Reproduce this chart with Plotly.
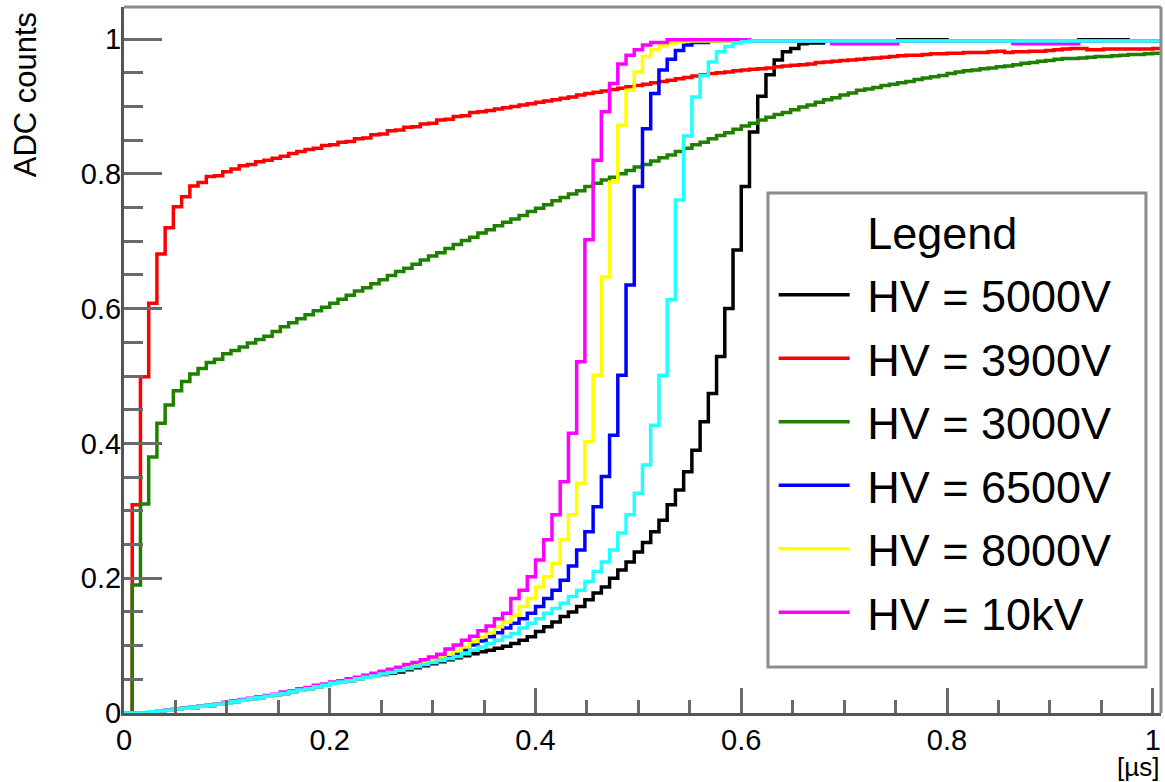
import numpy as np
import plotly.graph_objects as go

# ---------------- data ----------------
BIN_WIDTH = 0.008  # microseconds per bin (126 bins)

tail = [0, 0, 0, 0.002, 0.003, 0.004, 0.006, 0.007, 0.008, 0.010, 0.011, 0.013, 0.015, 0.017,
        0.019, 0.021, 0.023, 0.025, 0.027, 0.029, 0.032, 0.034, 0.036, 0.039, 0.041, 0.044,
        0.046, 0.048, 0.051, 0.053, 0.055]
tail_10kv = [0, 0, 0, 0.002, 0.003, 0.004, 0.006, 0.007, 0.008, 0.010, 0.011, 0.013, 0.016, 0.018,
             0.020, 0.022, 0.024, 0.026, 0.028, 0.031, 0.033, 0.036, 0.038, 0.041, 0.043, 0.046,
             0.048, 0.051, 0.053, 0.056, 0.059]

hv_5000 = tail + [0.057, 0.059, 0.061, 0.064, 0.067, 0.070, 0.073, 0.076,
                  0.079, 0.082, 0.085, 0.088, 0.091, 0.093, 0.096, 0.099, 0.103, 0.108,
                  0.113, 0.121, 0.128, 0.135, 0.143, 0.150, 0.158, 0.168, 0.178, 0.187,
                  0.200, 0.212, 0.224, 0.239, 0.253, 0.269, 0.286, 0.309, 0.331, 0.358,
                  0.390, 0.432, 0.474, 0.529, 0.600, 0.687, 0.781, 0.862, 0.915, 0.947,
                  0.969, 0.981, 0.986, 0.993, 0.994, 0.994,
                  0.997, 0.997, 0.997, 0.997, 0.997, 0.997, 0.997, 0.997, 0.997,
                  0.999, 0.999, 0.999, 0.999, 0.999, 0.999,
                  0.997, 0.997, 0.997, 0.997, 0.997, 0.997, 0.997, 0.997,
                  0.997, 0.997, 0.997, 0.997, 0.997, 0.997, 0.997, 0.997,
                  0.999, 0.999, 0.999, 0.999, 0.999, 0.999,
                  0.997, 0.997, 0.997, 0.997]

hv_3900 = [0, 0.309, 0.499, 0.608, 0.681, 0.720, 0.751, 0.766, 0.782, 0.787, 0.796, 0.797,
           0.803, 0.807, 0.812, 0.814, 0.818, 0.820, 0.823, 0.826, 0.830, 0.833, 0.836, 0.838,
           0.842, 0.843, 0.847, 0.848, 0.852, 0.853, 0.858, 0.859, 0.864, 0.865, 0.869, 0.870,
           0.874, 0.875, 0.880, 0.881, 0.885, 0.886, 0.891, 0.892, 0.894, 0.896, 0.898, 0.900,
           0.902, 0.904, 0.906, 0.908, 0.910, 0.912, 0.914, 0.917, 0.919, 0.921, 0.923, 0.925,
           0.927, 0.929, 0.931, 0.933, 0.935, 0.937, 0.939, 0.941, 0.943, 0.945, 0.947, 0.949,
           0.950, 0.951, 0.953, 0.954, 0.955, 0.956, 0.957, 0.959, 0.960, 0.961, 0.962, 0.963,
           0.965, 0.966, 0.967, 0.968, 0.969, 0.970, 0.971, 0.972, 0.973, 0.974, 0.975, 0.976,
           0.976, 0.977, 0.978, 0.978, 0.979, 0.979, 0.980, 0.980, 0.980, 0.981, 0.982, 0.980,
           0.981, 0.981, 0.982, 0.982, 0.983, 0.984, 0.985, 0.986, 0.986, 0.984, 0.984, 0.985,
           0.985, 0.985, 0.985, 0.985, 0.985, 0.986]

hv_3000 = [0, 0.190, 0.310, 0.380, 0.430, 0.457, 0.478, 0.492, 0.503, 0.511, 0.520, 0.525,
           0.533, 0.538, 0.543, 0.549, 0.554, 0.559, 0.566, 0.573, 0.579, 0.585, 0.591, 0.597,
           0.602, 0.608, 0.614, 0.620, 0.626, 0.631, 0.637, 0.643, 0.649, 0.655, 0.660, 0.666,
           0.672, 0.678, 0.683, 0.689, 0.695, 0.701, 0.706, 0.712, 0.717, 0.723, 0.728, 0.733,
           0.738, 0.744, 0.749, 0.754, 0.760, 0.765, 0.770, 0.775, 0.781, 0.786, 0.791, 0.795,
           0.800, 0.805, 0.810, 0.814, 0.819, 0.824, 0.828, 0.833, 0.838, 0.843, 0.847, 0.852,
           0.857, 0.861, 0.866, 0.871, 0.875, 0.880, 0.884, 0.888, 0.891, 0.895, 0.899, 0.902,
           0.906, 0.910, 0.913, 0.917, 0.920, 0.924, 0.926, 0.928, 0.931, 0.933, 0.935, 0.937,
           0.940, 0.942, 0.944, 0.946, 0.949, 0.951, 0.953, 0.954, 0.956, 0.957, 0.959, 0.960,
           0.962, 0.964, 0.965, 0.967, 0.968, 0.970, 0.971, 0.971, 0.972, 0.973, 0.974, 0.974,
           0.975, 0.976, 0.977, 0.977, 0.978, 0.979]

hv_6500 = tail + [0.059, 0.061, 0.064, 0.067, 0.070, 0.073, 0.077, 0.080,
                  0.084, 0.088, 0.094, 0.101, 0.107, 0.113, 0.119, 0.126, 0.133, 0.140,
                  0.148, 0.158, 0.170, 0.182, 0.197, 0.218, 0.242, 0.269, 0.306, 0.351,
                  0.412, 0.501, 0.635, 0.781, 0.867, 0.919, 0.954, 0.970, 0.983, 0.991,
                  0.995, 0.995] + [0.997] * 55

hv_8000 = tail + [0.060, 0.063, 0.066, 0.069, 0.072, 0.076, 0.079, 0.083,
                  0.087, 0.092, 0.098, 0.106, 0.113, 0.119, 0.128, 0.135, 0.145, 0.158,
                  0.170, 0.187, 0.202, 0.222, 0.257, 0.294, 0.341, 0.403, 0.501, 0.647,
                  0.788, 0.872, 0.924, 0.951, 0.974, 0.984, 0.990, 0.994, 0.996] + [0.997] * 58

hv_10k = tail_10kv + [0.062, 0.065, 0.068, 0.072, 0.075, 0.079, 0.083, 0.087,
                      0.095, 0.101, 0.108, 0.114, 0.122, 0.129, 0.140, 0.148, 0.170, 0.182,
                      0.202, 0.227, 0.257, 0.294, 0.343, 0.415, 0.521, 0.702, 0.820, 0.892,
                      0.934, 0.963, 0.976, 0.984, 0.991, 0.995, 0.995] \
    + [0.999] * 10 + [0.997] * 10 + [0.993] * 8 + [0.997] * 14 + [0.993] * 8 + [0.997] * 10

hv_extra = tail + [0.058, 0.060, 0.063, 0.066, 0.069, 0.072, 0.075, 0.078,
                   0.081, 0.084, 0.088, 0.093, 0.098, 0.103, 0.108, 0.113, 0.118, 0.126,
                   0.133, 0.140, 0.148, 0.155, 0.163, 0.173, 0.182, 0.195, 0.210, 0.224,
                   0.242, 0.267, 0.294, 0.326, 0.368, 0.427, 0.501, 0.613, 0.761, 0.856,
                   0.914, 0.946, 0.966, 0.981, 0.989, 0.994, 0.996] + [0.997] * 50

series = [
    ("HV = 5000V", hv_5000, "#000000", True),
    ("HV = 3900V", hv_3900, "#ff0000", True),
    ("HV = 3000V", hv_3000, "#1f8000", True),
    ("HV = 6500V", hv_6500, "#0000ff", True),
    ("HV = 8000V", hv_8000, "#ffff00", True),
    ("HV = 10kV", hv_10k, "#ff00ff", True),
    ("", hv_extra, "#22ffff", False),
]

x_ticks = [0, 0.2, 0.4, 0.6, 0.8, 1.0]
y_ticks = [0, 0.2, 0.4, 0.6, 0.8, 1.0]
tick_text = ["0", "0.2", "0.4", "0.6", "0.8", "1"]

# ---------------- figure ----------------
FONT = "Liberation Sans, Arial, Helvetica, sans-serif"
fig = go.Figure()

# legend header entry
fig.add_trace(go.Scatter(x=[None], y=[None], mode="lines", name=" Legend",
                         line=dict(width=0, color="rgba(0,0,0,0)"),
                         legendgroup="g_head", hoverinfo="skip"))

for i, (name, vals, color, show) in enumerate(series):
    n = len(vals)
    edges = np.arange(n + 1) * BIN_WIDTH
    yv = list(vals) + [vals[-1]]
    fig.add_trace(go.Scatter(
        x=edges, y=yv, mode="lines", name=" " + name,
        line=dict(color=color, width=3.5, shape="hv"),
        showlegend=show, legendgroup=f"g{i}",
    ))

axis_common = dict(
    showgrid=False, zeroline=False, showline=True, linecolor="#555555", linewidth=3,
    ticks="inside", tickcolor="#6a6a6a", tickwidth=3,
    tickfont=dict(family=FONT, size=29, color="#000000"),
)

fig.update_xaxes(range=[0, 1.008], tickvals=x_ticks, ticktext=tick_text,
                 ticklen=25, ticklabelstandoff=-1,
                 minor=dict(dtick=0.05, tick0=0, ticks="inside", ticklen=13,
                            tickcolor="#6a6a6a", tickwidth=3),
                 **axis_common)
fig.update_yaxes(range=[0, 1.0475], tickvals=y_ticks, ticktext=tick_text,
                 ticklen=38, ticklabelstandoff=-6,
                 minor=dict(dtick=0.05, tick0=0, ticks="inside", ticklen=19,
                            tickcolor="#6a6a6a", tickwidth=3),
                 **axis_common)

# top and right frame
fig.add_shape(type="line", xref="paper", yref="paper", x0=0, x1=1, y0=1, y1=1,
              line=dict(color="#8c8c8c", width=3), layer="above")
fig.add_shape(type="line", xref="paper", yref="paper", x0=1, x1=1, y0=0, y1=1,
              line=dict(color="#8c8c8c", width=3), layer="above")

# legend frame
fig.add_shape(type="rect", xref="paper", yref="paper", x0=0.621, x1=0.9855, y0=0.0652, y1=0.7365,
              line=dict(color="#8c8c8c", width=3), fillcolor="white", layer="above")

fig.add_annotation(text="ADC counts", xref="paper", yref="paper", x=-0.0955, y=0.996,
                   xanchor="center", yanchor="top", textangle=-90, showarrow=False,
                   font=dict(family=FONT, size=31, color="#000000"))
fig.add_annotation(text="[µs]", xref="paper", yref="paper", x=1.0, y=-0.0765,
                   xanchor="right", yanchor="middle", showarrow=False,
                   font=dict(family=FONT, size=26, color="#000000"))

fig.update_layout(
    width=1165, height=782, autosize=False,
    margin=dict(l=124, r=4, t=7, b=69),
    paper_bgcolor="white", plot_bgcolor="white",
    showlegend=True,
    legend=dict(x=0.6265, y=0.733, xanchor="left", yanchor="top",
                bgcolor="rgba(0,0,0,0)", borderwidth=0,
                font=dict(family=FONT, size=45, color="#000000"),
                itemwidth=71, tracegroupgap=2, traceorder="grouped",
                itemclick=False, itemdoubleclick=False),
)

fig.write_html("out.html")
